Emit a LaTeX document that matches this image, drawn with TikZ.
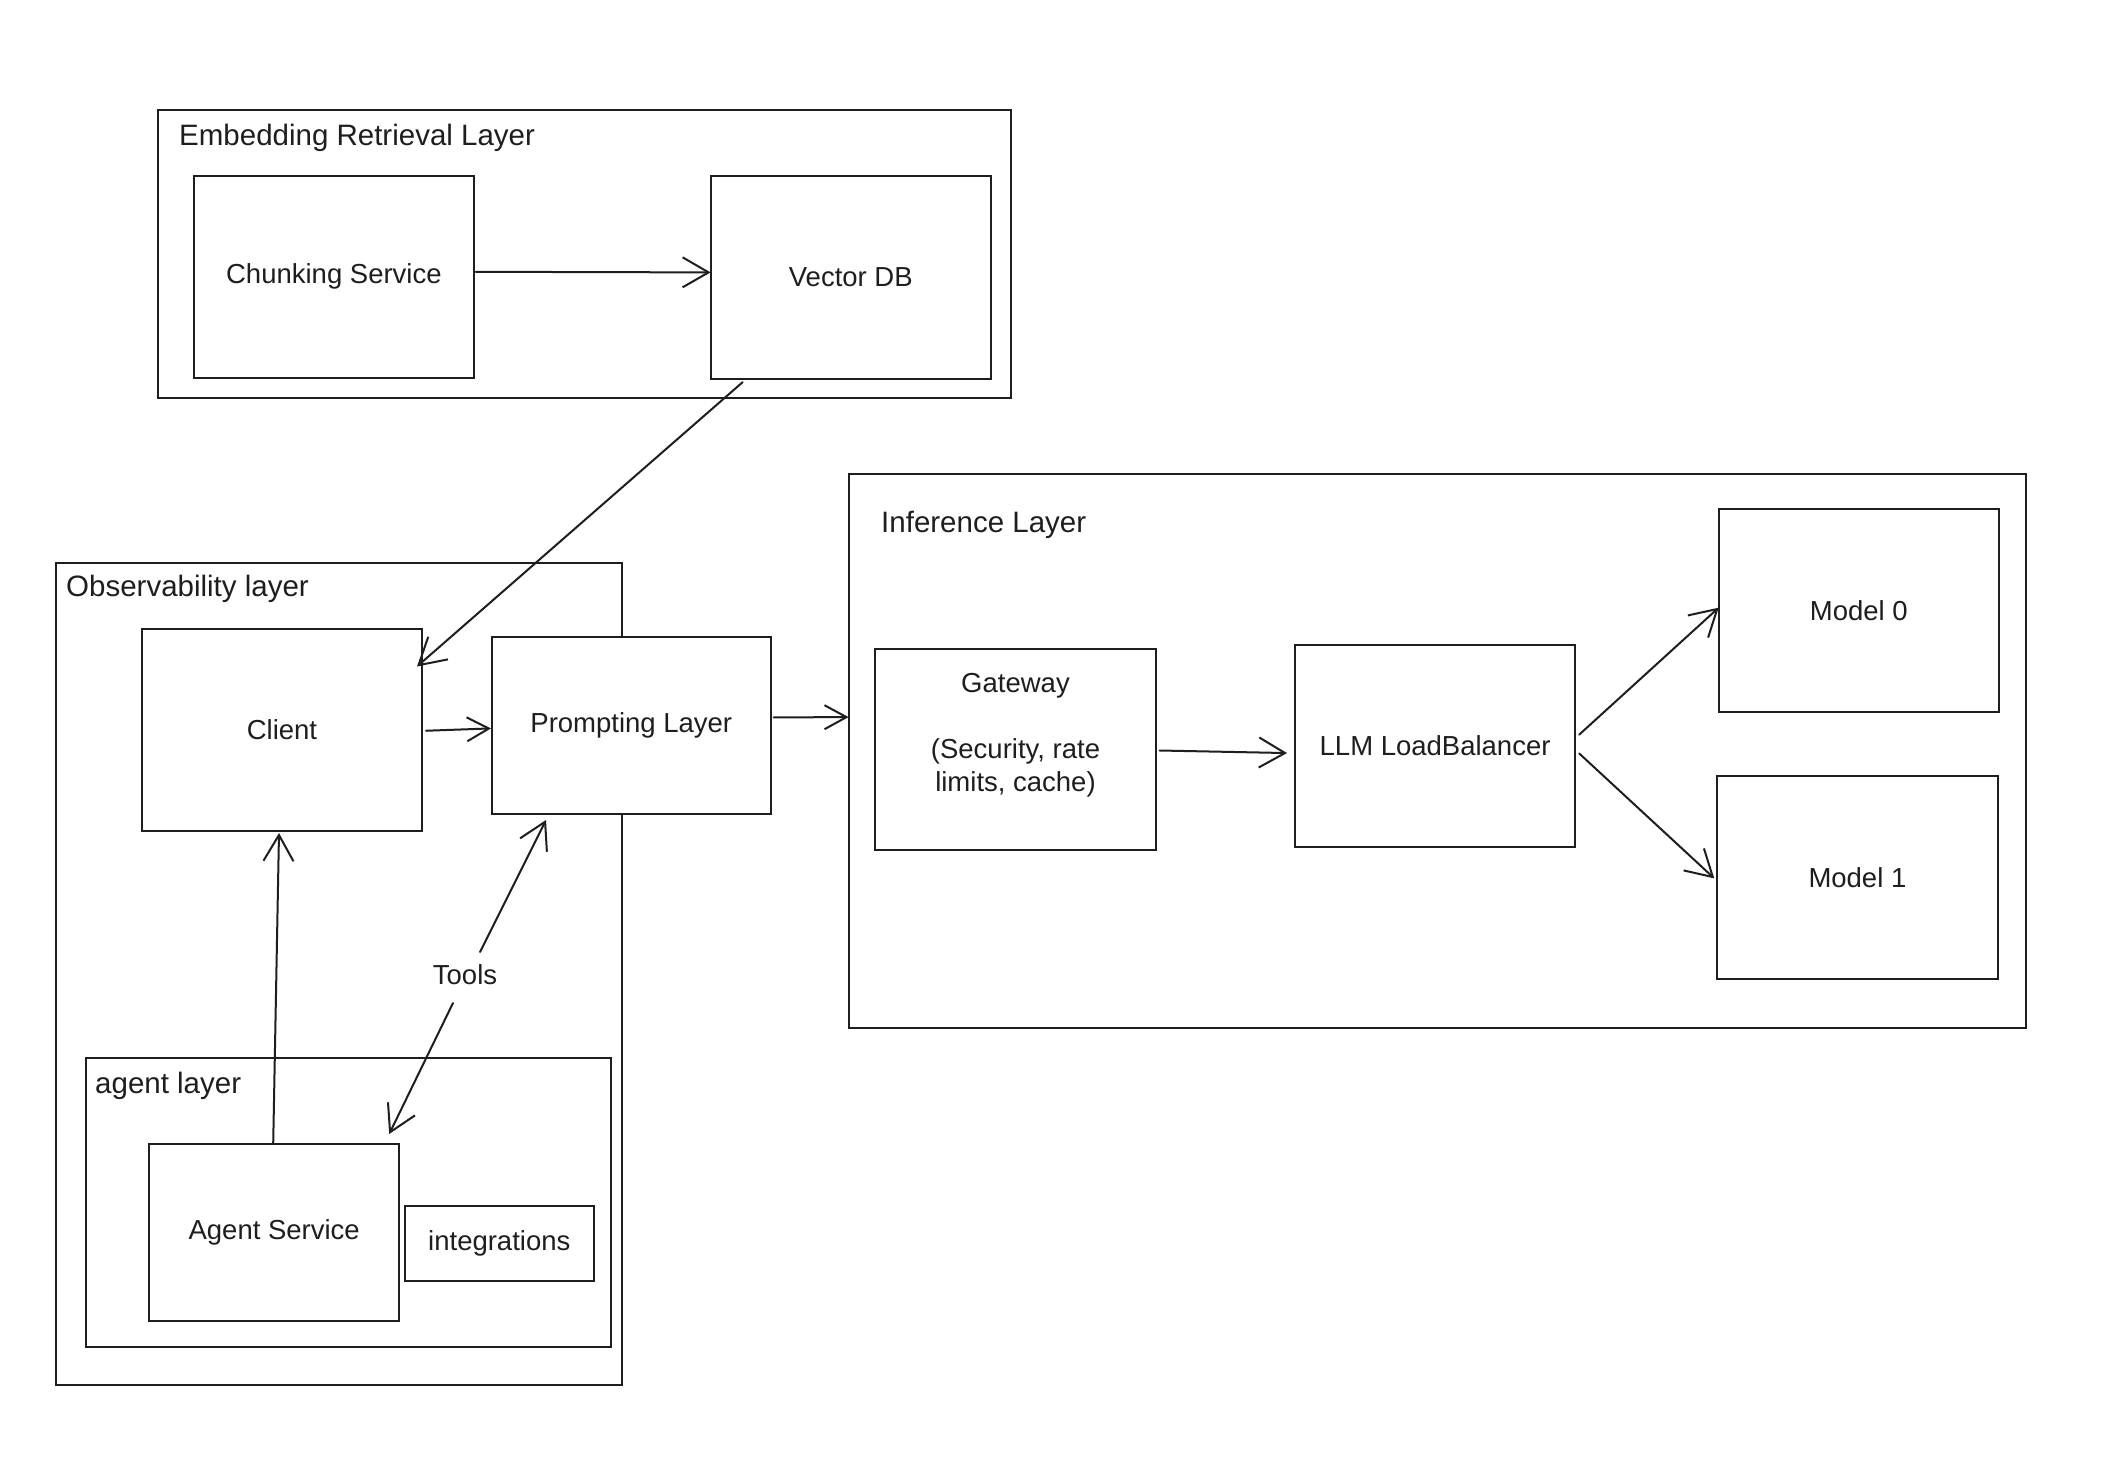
\documentclass[tikz,border=0pt]{standalone}
\usepackage{fontspec}
\setmainfont{Liberation Sans}
\usetikzlibrary{arrows.meta,calc}
\definecolor{ink}{HTML}{1E1E1E}
\begin{document}
\begin{tikzpicture}[x=1pt,y=-1pt,
  every node/.style={font=\fontsize{27.5}{33}\selectfont, text=ink},
  container/.style={draw=ink, line width=2pt, inner sep=0pt, outer sep=0pt},
  boxnode/.style={draw=ink, fill=white, line width=2pt, inner sep=0pt, outer sep=0pt, align=center},
  lbl/.style={anchor=base west, inner sep=0pt, font=\fontsize{29.5}{35}\selectfont},
  arr/.style={draw=ink, line width=2pt, -{Straight Barb[length=26pt,width=30pt]}, line cap=round},
  shortarr/.style={draw=ink, line width=2pt, -{Straight Barb[length=22pt,width=24pt]}, line cap=round},
]
\useasboundingbox (0,0) rectangle (2102,1470);
\fill[white] (0,0) rectangle (2102,1470);

% containers
\node[container, minimum width=852.8pt, minimum height=288.4pt] (emb) at (584.6,253.8) {};
\node[container, minimum width=566pt, minimum height=822pt] (obs) at (339,974) {};
\node[container, minimum width=525.3pt, minimum height=288.7pt] (agl) at (348.35,1202.65) {};
\node[container, minimum width=1177pt, minimum height=554.2pt] (inf) at (1437.1,751.1) {};

% container labels
\node[lbl] (embl) at (179,145) {Embedding Retrieval Layer};
\node[lbl] (obsl) at (66,596) {Observability layer};
\node[lbl] (infl) at (881,532) {Inference Layer};
\node[lbl] (agll) at (95,1093) {agent layer};

% boxes
\node[boxnode, minimum width=279.7pt, minimum height=202.4pt] (chunk) at (333.9,276.8) {Chunking Service};
\node[boxnode, minimum width=280.4pt, minimum height=203.6pt] (vdb) at (850.8,277.4) {Vector DB};
\node[boxnode, minimum width=280pt, minimum height=202.5pt] (client) at (282,729.75) {Client};
\node[boxnode, minimum width=278.6pt, minimum height=177.2pt] (prompt) at (631.3,725.4) {Prompting Layer};
\node[boxnode, minimum width=250pt, minimum height=176.6pt] (agent) at (274.2,1232.3) {Agent Service};
\node[boxnode, minimum width=189.4pt, minimum height=75pt] (integ) at (499.3,1243.7) {integrations};
\node[boxnode, minimum width=280.2pt, minimum height=201pt] (gw) at (1015.5,749.5) {};
\node[align=center, anchor=north, inner sep=0pt] (gwtext) at (1015.5,673) {Gateway\\[33pt](Security, rate\\limits, cache)};
\node[boxnode, minimum width=280.2pt, minimum height=202.5pt] (lb) at (1435.1,746.05) {LLM LoadBalancer};
\node[boxnode, minimum width=280.1pt, minimum height=202.5pt] (m0) at (1858.75,610.65) {Model 0};
\node[boxnode, minimum width=280.2pt, minimum height=202.4pt] (m1) at (1857.4,877.4) {Model 1};

% tools label
\node (tools) at (465,975) {Tools};

% connectors
\draw[arr] ($(chunk.east)+(2,-5)$) -- ($(vdb.west)+(0,-5)$);
\draw[arr] ($(vdb.south west)+(32,3)$) -- ($(client.north east)+(-5,38)$);
\draw[shortarr] ($(client.east)+(4,1)$) -- ($(prompt.west)+(-1,3)$);
\draw[shortarr] ($(prompt.east)+(3,-8)$) -- ($(inf.west)+(0,-34)$);
\draw[arr] ($(gw.east)+(4,1)$) -- ($(lb.west)+(-8,7)$);
\draw[arr] ($(lb.east)+(4,-11.4)$) -- ($(m0.west)+(0,-3)$);
\draw[arr] ($(lb.east)+(4,7.4)$) -- ($(m1.west)+(-3,1)$);
\draw[arr] ($(agent.north)+(-1,0)$) -- ($(client.south)+(-3,2)$);
\draw[arr] ($(tools.center)+(15,-23)$) -- ($(prompt.south west)+(54,6)$);
\draw[arr] ($(tools.center)+(-12,28)$) -- ($(agent.north east)+(-10,-10)$);
\end{tikzpicture}
\end{document}
